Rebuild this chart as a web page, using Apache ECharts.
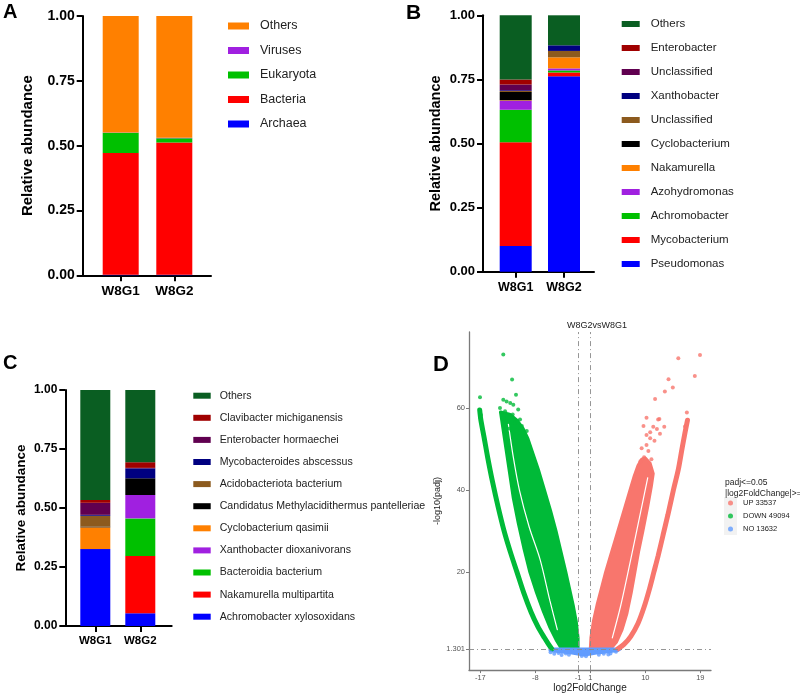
<!DOCTYPE html>
<html><head><meta charset="utf-8">
<script src="https://cdn.jsdelivr.net/npm/echarts@6/dist/echarts.min.js"></script>
<style>html,body{margin:0;padding:0;background:#fff}#c{width:800px;height:694px}</style>
</head><body><div id="c"></div>
<script>
// ---------- DATA ----------
const categories = ['W8G1', 'W8G2'];

// Panel A (stack bottom -> top)
const aTaxa = ['Archaea', 'Bacteria', 'Eukaryota', 'Viruses', 'Others'];
const aW8G1 = [0.002, 0.470, 0.078, 0.001, 0.449];
const aW8G2 = [0.002, 0.510, 0.017, 0.001, 0.470];
const aColors = ['#0000FF', '#FF0000', '#00C000', '#A020E0', '#FF8000'];

// Panel B (stack bottom -> top)
const bTaxa = ['Pseudomonas', 'Mycobacterium', 'Achromobacter', 'Azohydromonas', 'Nakamurella', 'Cyclobacterium', 'Unclassified', 'Xanthobacter', 'Unclassified', 'Enterobacter', 'Others'];
const bW8G1 = [0.100, 0.405, 0.127, 0.035, 0.002, 0.032, 0.004, 0.003, 0.022, 0.020, 0.250];
const bW8G2 = [0.762, 0.015, 0.008, 0.008, 0.043, 0.000, 0.025, 0.022, 0.000, 0.000, 0.117];
const bColors = ['#0000FF', '#FF0000', '#00C000', '#A020E0', '#FF8000', '#000000', '#8C5A1E', '#000080', '#600050', '#A00000', '#0A5E22'];

// Panel C (stack bottom -> top)
const cTaxa = ['Achromobacter xylosoxidans', 'Nakamurella multipartita', 'Bacteroidia bacterium', 'Xanthobacter dioxanivorans', 'Cyclobacterium qasimii', 'Candidatus Methylacidithermus pantelleriae', 'Acidobacteriota bacterium', 'Mycobacteroides abscessus', 'Enterobacter hormaechei', 'Clavibacter michiganensis', 'Others'];
const cW8G1 = [0.326, 0.000, 0.000, 0.000, 0.092, 0.003, 0.046, 0.004, 0.051, 0.012, 0.466];
const cW8G2 = [0.054, 0.243, 0.159, 0.099, 0.000, 0.071, 0.000, 0.042, 0.002, 0.024, 0.306];
const cColors = ['#0000FF', '#FF0000', '#00C000', '#A020E0', '#FF8000', '#000000', '#8C5A1E', '#000080', '#600050', '#A00000', '#0A5E22'];

// Panel D (volcano): [log2FoldChange, -log10(padj)]
const dXTicks = [-17, -8, -1, 1, 10, 19];
const dYTicks = [1.301, 20, 40, 60];
const dLegendNames = ['UP 33537', 'DOWN 49094', 'NO 13632'];
const downWedge = [[-13.7,59],[-13.3,55],[-12.8,50],[-12.2,44],[-11.6,38],[-10.8,32],[-9.9,26],[-8.9,20],[-7.8,15],[-6.7,10.5],[-5.6,6.5],[-4.6,3.5],[-3.7,1.3],[-1.0,1.3],[-1.0,4],[-1.3,8],[-1.8,12],[-2.4,16],[-3.0,20],[-3.8,25],[-4.6,30],[-5.5,35],[-6.5,40],[-7.5,45],[-8.4,49],[-9.2,52.5],[-10.0,55],[-11.0,57],[-12.2,58.5]];
const downOuterBand = [[-17.1,59.5],[-16.9,57],[-16.4,53],[-15.8,48],[-15.0,42],[-14.1,36],[-13.1,30],[-12.1,25],[-11.0,20],[-9.9,15],[-8.7,10.3],[-7.6,6.8],[-6.5,4.0],[-5.9,2.6],[-5.3,1.3]];
const downGapLine = [[-12.4,56],[-11.6,48],[-10.6,40],[-9.0,31],[-7.2,23],[-5.6,13],[-4.4,6]];
const downPoints = [[-17.05,62.6],[-13.24,73.0],[-11.8,66.9],[-11.16,63.2],[-13.24,62.0],[-13.78,60.0],[-12.7,61.6],[-12.1,61.2],[-11.6,60.8],[-10.8,59.6],[-12.95,59.2],[-10.5,57.2],[-10.2,55.6],[-11.3,56.4],[-11.8,57.9],[-13.5,58.8],[-9.4,54.4],[-12.2,55],[-11.0,54.5],[-10.6,53],[-12.8,57],[-11.7,58.4],[-10.9,56.8],[-9.9,53.7],[-13.2,57.5],[-16.9,58.3],[-17.0,57.6]];
const upWedge = [[1.0,1.3],[1.1,4],[1.5,8],[2.1,12],[2.8,16],[3.5,20],[4.3,24],[5.1,28],[5.9,32],[6.7,36],[7.5,40],[8.2,43.5],[8.8,46],[9.4,47.5],[10.0,47.8],[10.8,46.5],[11.3,44],[11.0,41],[10.4,36],[9.6,30],[8.9,25],[8.3,20],[7.7,15],[7.0,10],[6.2,6],[5.3,3],[4.3,1.3]];
const upOuterBand = [[16.9,57],[16.5,54],[16.0,50],[15.4,45],[14.6,40],[13.7,34],[12.9,29],[12.1,24],[11.4,20],[10.7,16],[9.8,11.5],[8.8,7.5],[7.6,4.3],[6.5,2.4],[5.5,1.3]];
const upGapLine = [[4.6,4],[6.0,12],[7.6,23],[9.0,33],[10.4,43]];
const upPoints = [[15.4,72.1],[18.95,72.9],[18.1,67.8],[13.8,67.0],[13.2,64.0],[14.5,65.0],[11.6,62.2],[16.8,58.9],[10.2,57.6],[12.1,57.2],[12.3,57.3],[11.3,55.4],[13.1,55.4],[16.5,55.5],[10.8,54.1],[11.9,54.9],[9.7,55.6],[10.2,53.4],[10.8,52.6],[9.4,50.2],[9.8,48],[10.5,49.5],[11.0,47.5],[9.2,47],[10.2,51],[11.5,52],[12.4,53.7]];
const noBand = [[-5.6,1.3],[5.9,1.3],[5.5,0.9],[4.0,0.6],[2.0,0.3],[0.8,0.0],[0.0,-0.2],[-0.8,0.0],[-2.0,0.3],[-4.0,0.6],[-5.6,0.9]];
const noPoints = [[-5.5,0.5],[-4.9,0.15],[-4.2,0.3],[-3.7,-0.2],[-3.0,0.2],[3.2,0.1],[3.95,-0.05],[4.3,0.2],[5.2,0.6],[-2.5,-0.1],[2.4,-0.1],[0.3,-0.5],[-0.4,-0.4]];

// ---------- CHART ----------
const FONT = 'Liberation Sans, Arial, sans-serif';
const chart = echarts.init(document.getElementById('c'), null, {renderer: 'canvas'});

const panels = [
  {key: 'A', taxa: aTaxa, g1: aW8G1, g2: aW8G2, colors: aColors,
   axisGrid: {left: 82.7, top: 16, width: 128.3, height: 259.3}, barGrid: {left: 93.9, top: 16, width: 107.2, height: 259.3},
   barW: 36, tickFont: 14, nameFont: 15, nameGap: 47, xFont: 13.5,
   legend: {left: 228, top: 19, itemWidth: 21, itemHeight: 7, itemGap: 10.5, fontSize: 12.5, lineHeight: 14, pad: 6}},
  {key: 'B', taxa: bTaxa, g1: bW8G1, g2: bW8G2, colors: bColors,
   axisGrid: {left: 483, top: 15.3, width: 111, height: 256.4}, barGrid: {left: 491.55, top: 15.3, width: 96.6, height: 256.4},
   barW: 32, tickFont: 13, nameFont: 14.5, nameGap: 40, xFont: 12.5,
   legend: {left: 621.7, top: 17.5, itemWidth: 18, itemHeight: 6, itemGap: 11, fontSize: 11.5, lineHeight: 13, pad: 6}},
  {key: 'C', taxa: cTaxa, g1: cW8G1, g2: cW8G2, colors: cColors,
   axisGrid: {left: 65.3, top: 390, width: 106.4, height: 236}, barGrid: {left: 72.8, top: 390, width: 90, height: 236},
   barW: 30, tickFont: 12, nameFont: 13.5, nameGap: 37, xFont: 11.5,
   legend: {left: 193.3, top: 389.7, itemWidth: 17.4, itemHeight: 6, itemGap: 10.1, fontSize: 10.6, lineHeight: 12, pad: 4}}
];

const grids = [], xAxes = [], yAxes = [], series = [], legends = [];
panels.forEach((p, pi) => {
  const ai = 2 * pi, bi = 2 * pi + 1;
  grids.push(p.axisGrid, p.barGrid);
  // axis frame (full-length lines, y labels)
  xAxes.push({type: 'value', gridIndex: ai, min: 0, max: 1,
    axisLine: {show: true, onZero: false, lineStyle: {color: '#000', width: 2}},
    axisTick: {show: false}, axisLabel: {show: false}, splitLine: {show: false}});
  yAxes.push({type: 'value', gridIndex: ai, min: 0, max: 1, interval: 0.25,
    name: 'Relative abundance', nameLocation: 'middle', nameGap: p.nameGap,
    nameTextStyle: {fontSize: p.nameFont, fontWeight: 'bold', color: '#000', fontFamily: FONT},
    axisLine: {show: true, lineStyle: {color: '#000', width: 2}},
    axisTick: {show: true, length: 6, lineStyle: {color: '#000', width: 2}},
    axisLabel: {formatter: v => v.toFixed(2), margin: 8, color: '#000', fontWeight: 'bold', fontSize: p.tickFont, fontFamily: FONT},
    splitLine: {show: false}});
  // bar coordinate system
  xAxes.push({type: 'category', gridIndex: bi, data: categories,
    axisLine: {show: false},
    axisTick: {show: true, alignWithLabel: true, length: 6, lineStyle: {color: '#000', width: 2}},
    axisLabel: {margin: 9, color: '#000', fontWeight: 'bold', fontSize: p.xFont, fontFamily: FONT},
    splitLine: {show: false}});
  yAxes.push({type: 'value', gridIndex: bi, min: 0, max: 1, show: false});
  const names = [];
  p.taxa.forEach((t, ti) => {
    const nm = p.key + ti;
    names.push(nm);
    series.push({type: 'bar', name: nm, xAxisIndex: bi, yAxisIndex: bi, stack: p.key, barWidth: p.barW,
      itemStyle: {color: p.colors[ti]}, data: [p.g1[ti], p.g2[ti]], silent: true});
  });
  const L = p.legend;
  legends.push({orient: 'vertical', left: L.left, top: L.top, itemWidth: L.itemWidth, itemHeight: L.itemHeight, itemGap: L.itemGap,
    icon: 'rect', padding: 0, selectedMode: false, data: names.slice().reverse(),
    formatter: nm => p.taxa[parseInt(nm.slice(1))],
    textStyle: {fontSize: L.fontSize, lineHeight: L.lineHeight, color: '#222', fontFamily: FONT, padding: [0, 0, 0, L.pad]}});
});

// Panel D
const di = 6;
grids.push({left: 469, top: 332, width: 242, height: 340});
xAxes.push({type: 'value', gridIndex: di, min: -18.85, max: 20.75, name: 'log2FoldChange', nameLocation: 'middle', nameGap: 12,
  nameTextStyle: {fontSize: 10, color: '#222', fontFamily: FONT},
  axisLine: {show: true, onZero: false, lineStyle: {color: '#7a7a7a', width: 1.3}},
  axisTick: {show: true, customValues: dXTicks, length: 3, lineStyle: {color: '#7a7a7a', width: 1}},
  axisLabel: {customValues: dXTicks, formatter: v => String(v), margin: 4, color: '#555', fontSize: 7.5, fontFamily: FONT},
  splitLine: {show: false}});
yAxes.push({type: 'value', gridIndex: di, min: -3.86, max: 78.5, name: '-log10(padj)', nameLocation: 'middle', nameGap: 10,
  nameTextStyle: {fontSize: 9, color: '#222', fontFamily: FONT},
  axisLine: {show: true, onZero: false, lineStyle: {color: '#7a7a7a', width: 1.3}},
  axisTick: {show: true, customValues: dYTicks, length: 3, lineStyle: {color: '#7a7a7a', width: 1}},
  axisLabel: {customValues: dYTicks, formatter: v => String(v), margin: 4, color: '#555', fontSize: 7.5, fontFamily: FONT},
  splitLine: {show: false}});

const RED = '#F8766D', GREEN = '#00BA38', BLUE = '#619CFF';
function poly(pts, color) {
  return {type: 'custom', xAxisIndex: di, yAxisIndex: di, silent: true, z: 2,
    renderItem: (params, api) => ({type: 'polygon', shape: {points: pts.map(pt => api.coord(pt))},
      style: {fill: color, stroke: color, lineWidth: 3, lineJoin: 'round'}}),
    data: [pts[0]]};
}
function band(pts, color, w, z) {
  return {type: 'line', xAxisIndex: di, yAxisIndex: di, silent: true, z: z || 2, data: pts, showSymbol: false, symbol: 'none',
    smooth: 0.3, lineStyle: {color: color, width: w, cap: 'round'}};
}
series.push(poly(downWedge, GREEN));
series.push(band(downOuterBand, GREEN, 5));
series.push(band(downGapLine, '#ffffff', 1.2, 3));
series.push(poly(upWedge, RED));
series.push(band(upOuterBand, RED, 5));
series.push(band(upGapLine, '#ffffff', 1.2, 3));
series.push(poly(noBand, BLUE));
series.push({type: 'scatter', name: dLegendNames[0], xAxisIndex: di, yAxisIndex: di, symbolSize: 4, z: 4, silent: true, itemStyle: {color: RED}, data: upPoints});
series.push({type: 'scatter', name: dLegendNames[1], xAxisIndex: di, yAxisIndex: di, symbolSize: 4, z: 4, silent: true, itemStyle: {color: GREEN}, data: downPoints});
series.push({type: 'scatter', name: dLegendNames[2], xAxisIndex: di, yAxisIndex: di, symbolSize: 4, z: 4, silent: true, itemStyle: {color: BLUE}, data: noPoints,
  markLine: {silent: true, symbol: 'none', label: {show: false}, animation: false,
    lineStyle: {color: '#8a8a8a', width: 0.9, type: [5, 3, 1, 3]},
    data: [{xAxis: -1}, {xAxis: 1}, {yAxis: 1.301}]}});
legends.push({orient: 'vertical', left: 728, top: 498, itemWidth: 5, itemHeight: 5, itemGap: 3, icon: 'circle', padding: 0, selectedMode: false,
  data: dLegendNames, textStyle: {fontSize: 7.5, lineHeight: 10, color: '#222', fontFamily: FONT, padding: [0, 0, 0, 5]}});

const letter = (t, x, y, s) => ({type: 'text', left: x, top: y, style: {text: t, font: 'bold ' + s + 'px ' + FONT, fill: '#000'}});

chart.setOption({
  animation: false,
  title: {text: 'W8G2vsW8G1', left: 592, top: 316, textAlign: 'center', textStyle: {fontSize: 9, fontWeight: 'normal', color: '#222', fontFamily: FONT}},
  grid: grids, xAxis: xAxes, yAxis: yAxes, legend: legends, series: series,
  graphic: [
    letter('A', 3, 2, 20), letter('B', 406, 3, 21), letter('C', 3, 353, 20), letter('D', 433, 354, 22),
    {type: 'rect', shape: {x: 724, y: 497, width: 13, height: 38}, style: {fill: '#F2F2F2'}, z: -1},
    {type: 'text', left: 725, top: 478, style: {text: 'padj<=0.05', font: '8.5px ' + FONT, fill: '#222'}},
    {type: 'text', left: 725, top: 489, style: {text: '|log2FoldChange|>=1', font: '8.5px ' + FONT, fill: '#222'}}
  ]
});
</script></body></html>
